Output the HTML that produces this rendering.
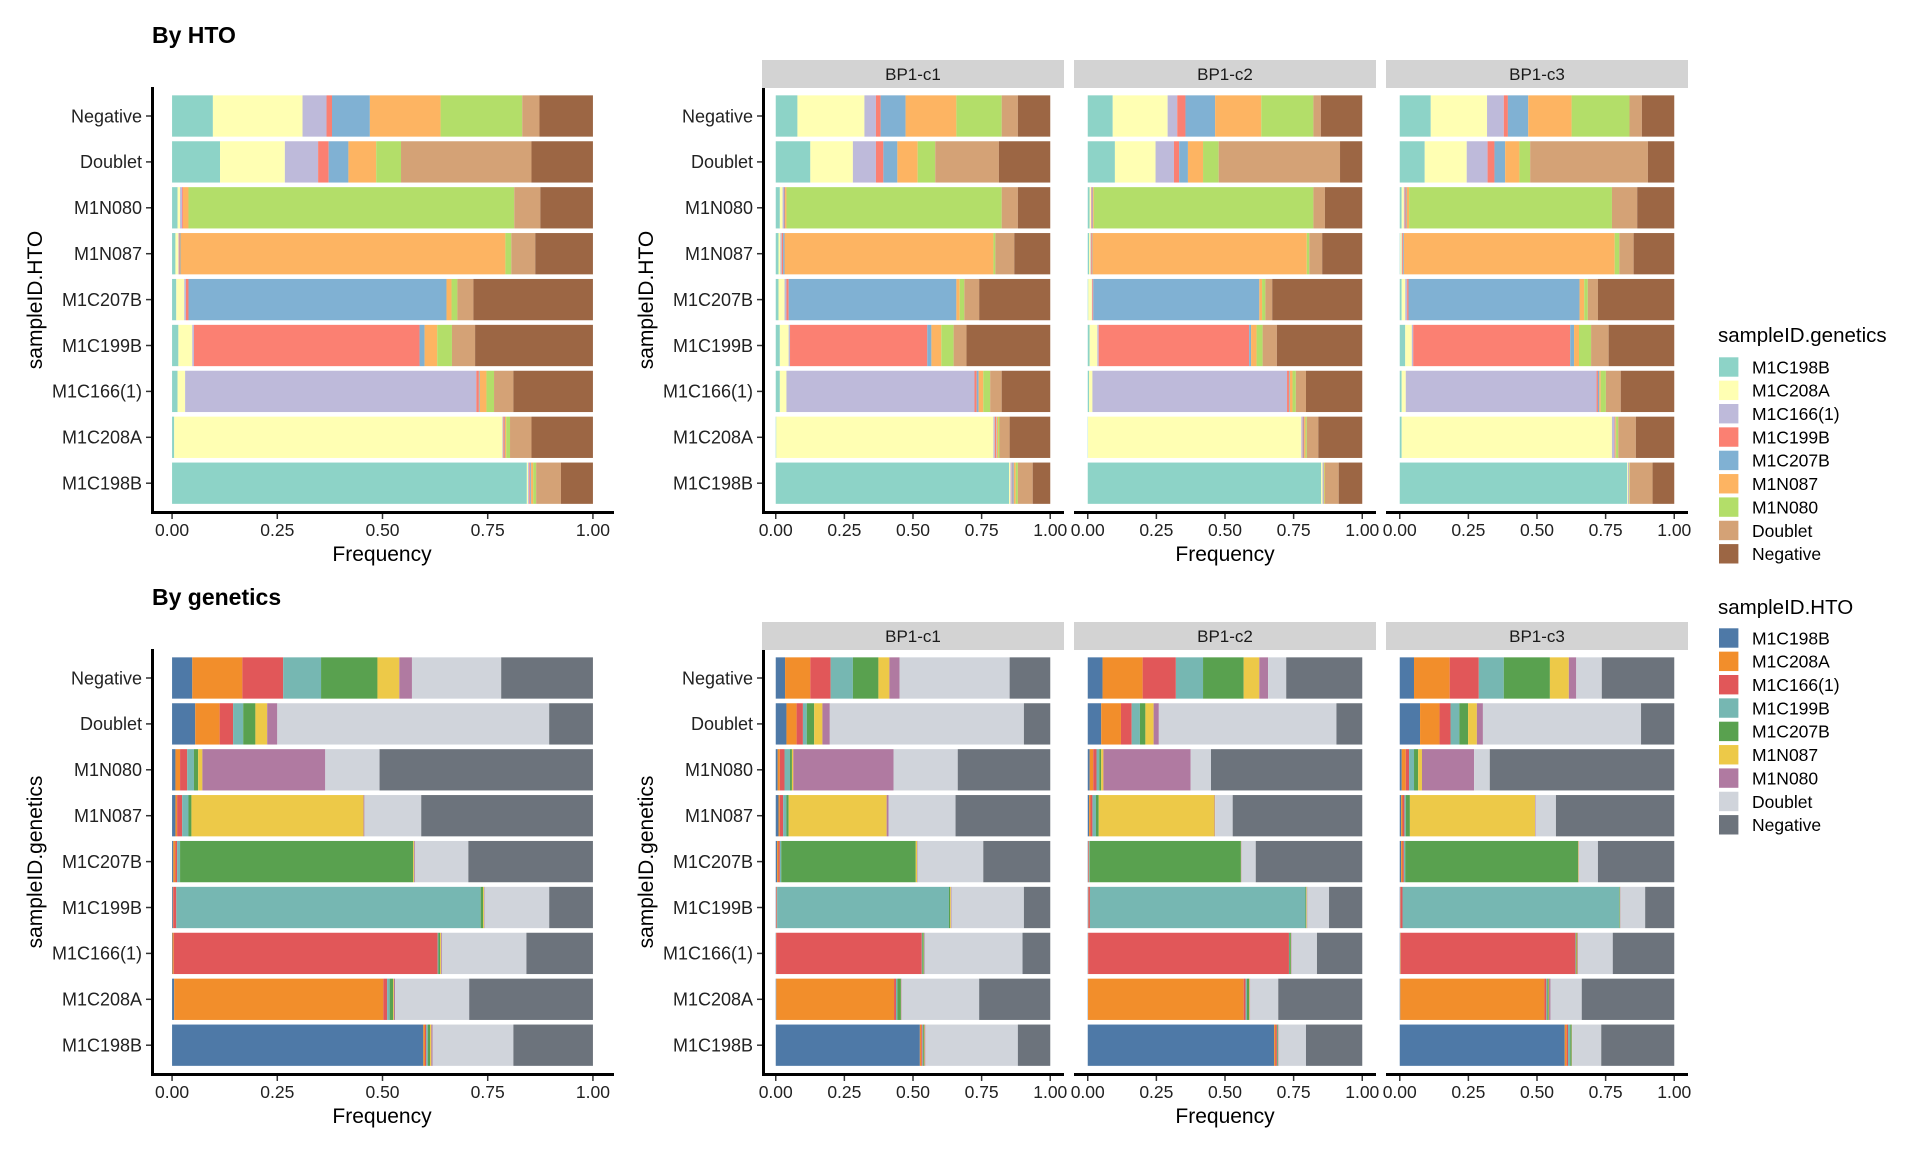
<!DOCTYPE html>
<html><head><meta charset="utf-8"><style>
html,body{margin:0;padding:0;background:#fff;}
svg{display:block;font-family:"Liberation Sans",Arial,sans-serif;}
</style></head><body>
<svg id="chart" width="1920" height="1152" viewBox="0 0 1920 1152" xmlns="http://www.w3.org/2000/svg"></svg>
<script>
const rowCats = ["Negative","Doublet","M1N080","M1N087","M1C207B","M1C199B","M1C166(1)","M1C208A","M1C198B"];
const fillCats = ["M1C198B","M1C208A","M1C166(1)","M1C199B","M1C207B","M1N087","M1N080","Doublet","Negative"];
const facetNames = ["BP1-c1","BP1-c2","BP1-c3"];
const xTicks = [0,0.25,0.5,0.75,1];
const xTickLabels = ["0.00","0.25","0.50","0.75","1.00"];
const colorsHTO = ["#8DD3C7","#FFFFB3","#BEBADA","#FB8072","#80B1D3","#FDB462","#B3DE69","#D4A276","#9C6644"];
const colorsGen = ["#4E79A7","#F28E2B","#E15759","#76B7B2","#59A14F","#EDC948","#B07AA1","#D0D4DB","#6C737C"];

const htoAll = [
 [.097,.213,.057,.013,.09,.168,.194,.041,.127],
 [.114,.154,.079,.025,.047,.066,.059,.31,.146],
 [.013,.006,.005,.002,0,.013,.774,.062,.125],
 [.008,.007,.001,.002,.002,.772,.014,.057,.137],
 [.01,.019,.004,.006,.613,.012,.014,.038,.284],
 [.015,.033,.004,.536,.012,.03,.035,.055,.28],
 [.013,.018,.692,.006,.002,.016,.018,.046,.189],
 [.005,.78,.002,.003,.001,.003,.009,.051,.146],
 [.843,.003,.003,.002,.002,.005,.007,.059,.076]];
const htoC1 = [
 [.079,.244,.042,.017,.091,.185,.165,.059,.118],
 [.126,.155,.084,.027,.051,.074,.064,.232,.187],
 [.015,.01,.005,.002,.002,.005,.784,.059,.118],
 [.01,.007,.005,.005,.005,.761,.007,.069,.131],
 [.01,.022,.007,.008,.611,.012,.017,.054,.259],
 [.015,.032,.005,.5,.015,.036,.045,.047,.305],
 [.015,.024,.685,.008,.007,.017,.025,.042,.177],
 [.002,.791,.005,.005,.002,.005,.005,.037,.148],
 [.85,.005,.005,.002,.005,.007,.008,.054,.064]];
const htoC2 = [
 [.091,.2,.035,.03,.108,.168,.19,.027,.151],
 [.099,.148,.067,.019,.032,.055,.057,.442,.081],
 [.007,.005,.002,.003,.002,.003,.8,.042,.136],
 [.005,.005,.002,.003,.002,.781,.009,.047,.146],
 [.002,.013,.002,.003,.605,.01,.012,.025,.328],
 [.007,.028,.005,.548,.007,.02,.022,.052,.311],
 [.005,.012,.709,.007,.003,.01,.012,.037,.205],
 [.001,.777,.005,.003,.002,.005,.005,.042,.16],
 [.852,.005,.002,.001,.002,.002,.002,.05,.086]];
const htoC3 = [
 [.113,.205,.061,.015,.074,.158,.211,.045,.118],
 [.091,.153,.076,.025,.039,.052,.039,.429,.096],
 [.007,.008,.003,.004,.003,.009,.739,.092,.135],
 [.002,.005,.002,.003,.003,.768,.017,.052,.148],
 [.007,.013,.007,.005,.623,.017,.013,.037,.278],
 [.02,.024,.005,.572,.014,.018,.044,.064,.239],
 [.007,.015,.695,.005,.005,.005,.019,.054,.195],
 [.007,.766,.008,.002,.002,.003,.008,.064,.14],
 [.828,.003,.002,.001,.001,.001,.002,.083,.079]];
const genAll = [
 [.048,.119,.097,.09,.134,.052,.03,.212,.218],
 [.055,.058,.032,.024,.029,.028,.024,.646,.104],
 [.008,.011,.017,.016,.01,.01,.292,.129,.507],
 [.008,.004,.012,.015,.007,.409,.002,.135,.408],
 [.003,.005,.004,.007,.554,.002,.002,.127,.296],
 [.002,.001,.007,.724,.006,.002,.001,.154,.104],
 [.001,.003,.627,.002,.004,.002,.002,.201,.158],
 [.005,.497,.009,.006,.008,.002,.003,.176,.294],
 [.597,.004,.003,.004,.005,.003,.003,.192,.189]];
const genC1 = [
 [.034,.092,.074,.081,.093,.04,.037,.401,.148],
 [.039,.037,.023,.014,.027,.03,.027,.707,.096],
 [.007,.008,.017,.02,.007,.005,.365,.234,.337],
 [.01,.005,.012,.012,.008,.357,.007,.244,.345],
 [.005,.005,.005,.005,.49,.005,.002,.239,.244],
 [.002,.001,.002,.626,.004,.003,.002,.264,.096],
 [.001,.001,.53,.002,.005,.001,.002,.357,.101],
 [.002,.429,.007,.005,.013,.001,.002,.282,.259],
 [.525,.005,.004,.003,.003,.002,.003,.337,.118]];
const genC2 = [
 [.054,.146,.121,.099,.148,.057,.032,.066,.277],
 [.049,.072,.039,.03,.02,.03,.019,.647,.094],
 [.007,.013,.012,.01,.007,.008,.318,.074,.551],
 [.005,.005,.007,.013,.01,.422,.002,.064,.472],
 [.002,.001,.002,.002,.551,.001,.001,.052,.388],
 [.002,.001,.005,.785,.003,.002,.002,.079,.121],
 [.001,.001,.731,.002,.005,.001,.002,.092,.165],
 [.001,.567,.007,.005,.008,.002,.002,.102,.306],
 [.679,.005,.005,.002,.002,.001,.002,.099,.205]];
const genC3 = [
 [.052,.13,.106,.091,.168,.069,.027,.093,.264],
 [.074,.071,.04,.032,.032,.032,.022,.576,.121],
 [.007,.015,.012,.018,.015,.014,.19,.057,.672],
 [.005,.005,.007,.005,.015,.456,.002,.074,.431],
 [.005,.005,.005,.005,.63,.002,.001,.069,.278],
 [.002,.001,.007,.79,.002,.001,.001,.09,.106],
 [.002,.002,.636,.002,.002,.003,.003,.126,.224],
 [.002,.525,.007,.004,.004,.002,.005,.114,.337],
 [.601,.007,.005,.008,.005,.001,.001,.106,.266]];

const NS = "http://www.w3.org/2000/svg";
const svg = document.getElementById("chart");
function mk(tag, attrs, parent, text){
  const e = document.createElementNS(NS, tag);
  for (const k in attrs) e.setAttribute(k, attrs[k]);
  if (text !== undefined) e.textContent = text;
  (parent || svg).appendChild(e);
  return e;
}
const PT = 88, PB = 511;           // panel top/bottom (top section)
const ROW0 = 116, STEP = 45.9, BARH = 41.3;
function yBand(i, off){ return off + ROW0 + i*STEP; }
function xScale(px0, px1){ const pad=(px1-px0)*0.0455; const a=px0+pad, b=px1-pad; return v => a + v*(b-a); }

function drawPanel(x0, x1, off, data, colors, opts){
  const g = mk("g", {});
  
  
  const xs = xScale(x0, x1);
  data.forEach((row, i) => {
    const tot = row.reduce((a,b)=>a+b,0);
    let cum = 0;
    const yc = yBand(i, off);
    row.forEach((v, j) => {
      const a = xs(cum/tot), b = xs((cum+v)/tot);
      cum += v;
      if (b - a <= 0) return;
      const r = mk("rect", {x:a, y:yc-BARH/2, width:b-a, height:BARH, fill:colors[j]}, g);
      
      
    });
  });
  // x axis
  const ax = mk("line", {x1:x0, x2:x1, y1:off+PB+1.5, y2:off+PB+1.5, stroke:"#000", "stroke-width":3}, g);
  
  
  xTicks.forEach((t, k) => {
    const xx = xs(t);
    mk("line", {x1:xx, x2:xx, y1:off+PB+3, y2:off+PB+8, stroke:"#333", "stroke-width":1.5}, g);
    const tl = mk("text", {x:xx, y:off+PB+25, "text-anchor":"middle", "font-size":17.5, fill:"#222"}, g, xTickLabels[k]);
    
    
  });
  if (opts.yaxis){
    const ay = mk("line", {x1:x0+1.5, x2:x0+1.5, y1:off+PT-1, y2:off+PB+3, stroke:"#000", "stroke-width":3}, g);
    
    
    rowCats.forEach((c, i) => {
      const yc = yBand(i, off);
      mk("line", {x1:x0-5, x2:x0, y1:yc, y2:yc, stroke:"#333", "stroke-width":1.5}, g);
      const tl = mk("text", {x:x0-9, y:yc+6.3, "text-anchor":"end", "font-size":18, fill:"#222"}, g, c);
      
      
    });
  }
  if (opts.strip){
    const s = mk("rect", {x:x0, y:off+60, width:x1-x0, height:28, fill:"#d3d3d3"}, g);
    
    
    const st = mk("text", {x:(x0+x1)/2, y:off+80, "text-anchor":"middle", "font-size":17, fill:"#1a1a1a"}, g, opts.strip);
    
    
  }
}

function drawSection(off, title, yTitle, colors, all, c1, c2, c3){
  const t = mk("text", {x:152, y:off+43, "font-size":23, "font-weight":"bold", fill:"#000"}, svg, title);
  
  
  drawPanel(151, 614, off, all, colors, {name:'overall-panel', yaxis:true});
  const fx = [762, 1074, 1386];
  [c1, c2, c3].forEach((d, k) => drawPanel(fx[k], fx[k]+302, off, d, colors, {name:'facet-panel-' + facetNames[k].toLowerCase(), yaxis:k===0, strip:facetNames[k]}));
  [[35, ], [646]].forEach(p => {
    const yt = mk("text", {x:p[0], y:off+300, "text-anchor":"middle", "font-size":21, fill:"#000", transform:`rotate(-90 ${p[0]} ${off+300})`, dy:"7"}, svg, yTitle);
    
    
  });
  [382, 1225].forEach(x => {
    const xt = mk("text", {x:x, y:off+561, "text-anchor":"middle", "font-size":21, fill:"#000"}, svg, "Frequency");
    
    
  });
}
drawSection(0, "By HTO", "sampleID.HTO", colorsHTO, htoAll, htoC1, htoC2, htoC3);
drawSection(562, "By genetics", "sampleID.genetics", colorsGen, genAll, genC1, genC2, genC3);

function drawLegend(titleY, firstY, title, colors, name){
  const g = mk("g", {});
  
  
  mk("text", {x:1718, y:titleY+7, "font-size":20.5, fill:"#000"}, g, title);
  fillCats.forEach((c, i) => {
    const yc = firstY + i*23.35;
    const e = mk("g", {}, g);
    
    
    mk("rect", {x:1719, y:yc-9.7, width:19.4, height:19.4, fill:colors[i]}, e);
    mk("text", {x:1752, y:yc+6.3, "font-size":17.5, fill:"#000"}, e, c);
  });
}
drawLegend(335, 367, "sampleID.genetics", colorsHTO, "legend-genetics");
drawLegend(607, 638, "sampleID.HTO", colorsGen, "legend-hto");
</script>
</body></html>
